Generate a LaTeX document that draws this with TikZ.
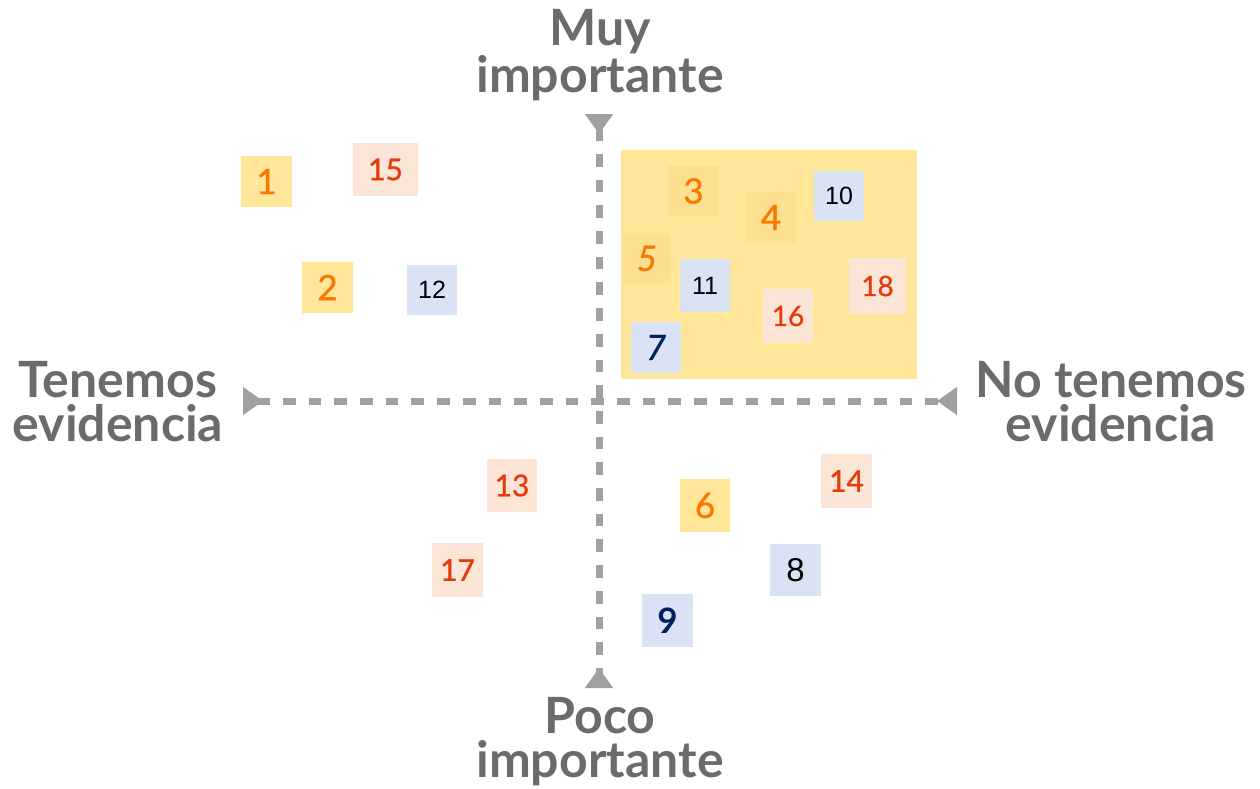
\documentclass[tikz,border=0pt]{standalone}
\usepackage{fontspec}
\setmainfont{Lato}
\newfontfamily\arialf{Liberation Sans}
\newfontfamily\latomed[FakeBold=0.9]{Lato}
\usetikzlibrary{arrows.meta}
\definecolor{lblgray}{HTML}{6B6B6B}
\definecolor{axgray}{HTML}{A0A0A0}
\definecolor{yfill}{HTML}{FFE699}
\definecolor{yfilldk}{HTML}{FDE08F}
\definecolor{pfill}{HTML}{FBE5D6}
\definecolor{bfill}{HTML}{DAE3F3}
\definecolor{orng}{HTML}{F97800}
\definecolor{rred}{HTML}{E63A0C}
\definecolor{dblue}{HTML}{002060}
\tikzset{
  box/.style={inner sep=0pt, anchor=center},
  ybox/.style={box, fill=yfill, text=orng, font=\latomed\fontsize{35}{35}\selectfont},
  ydbox/.style={box, fill=yfilldk, text=orng, font=\latomed\fontsize{35}{35}\selectfont},
  pbox/.style={box, fill=pfill, text=rred, font=\latomed\fontsize{30}{30}\selectfont},
  pboxs/.style={box, fill=pfill, text=rred, font=\latomed\fontsize{28}{28}\selectfont},
  bbox/.style={box, fill=bfill, text=black, font=\arialf\fontsize{25}{25}\selectfont},
  axis/.style={draw=axgray, line width=7pt, dash pattern=on 12.7pt off 13pt,
    {Triangle[reversed,length=20pt,width=27pt]}-{Triangle[reversed,length=20pt,width=27pt]}},
  lbl/.style={text=lblgray, align=center, inner sep=0pt, font=\bfseries\fontsize{50}{44}\selectfont}
}
\begin{document}
\begin{tikzpicture}[x=1pt,y=-1pt]
\useasboundingbox (0,0) rectangle (1260,788);
% highlighted quadrant
\fill[yfill] (621,150) rectangle (917,379);
% axes
\coordinate (L) at (243,401);
\coordinate (R) at (957,401);
\coordinate (T) at (599,114);
\coordinate (B) at (599,688);
\draw[axis] (L) -- (R);
\draw[axis] (T) -- (B);
% labels
\node[lbl] (top) at (600,55) {Muy\\importante};
\node[lbl] (left) at (118,402) {Tenemos\\evidencia};
\node[lbl] (right) at (1111,402) {No tenemos\\evidencia};
\node[lbl] (bottom) at (600,742) {Poco\\importante};
% boxes
\node[ybox, minimum width=51pt, minimum height=51pt] (n1) at (266.5,181.5) {1};
\node[pbox, minimum width=65pt, minimum height=53pt] (n15) at (385.5,169.5) {15};
\node[ybox, minimum width=51pt, minimum height=51pt] (n2) at (327.5,287.5) {2};
\node[bbox, minimum width=50pt, minimum height=50pt] (n12) at (432,290) {12};
\node[ydbox, minimum width=51pt, minimum height=50pt] (n3) at (693.5,191) {3};
\node[ydbox, minimum width=50pt, minimum height=51pt] (n4) at (771,217.5) {4};
\node[bbox, minimum width=50pt, minimum height=50pt] (n10) at (839,196) {10};
\node[ydbox, minimum width=48pt, minimum height=51pt] (n5) at (647,258.5) {\itshape 5};
\node[bbox, minimum width=50pt, minimum height=53pt] (n11) at (705,285.5) {11};
\node[pboxs, minimum width=57pt, minimum height=56pt] (n18) at (877.5,286) {18};
\node[pboxs, minimum width=50pt, minimum height=54pt] (n16) at (788,316) {16};
\node[bbox, text=dblue, font=\latomed\itshape\fontsize{35}{35}\selectfont, minimum width=50pt, minimum height=51pt] (n7) at (656,347.5) {7};
\node[pbox, minimum width=50pt, minimum height=53pt] (n13) at (512,485.5) {13};
\node[pbox, minimum width=51pt, minimum height=54pt] (n17) at (457.5,570) {17};
\node[ybox, minimum width=50pt, minimum height=53pt] (n6) at (705,505.5) {6};
\node[pbox, minimum width=51pt, minimum height=54pt] (n14) at (846.5,481) {14};
\node[bbox, font=\arialf\fontsize{33}{33}\selectfont, minimum width=51pt, minimum height=52pt] (n8) at (795.5,570) {8};
\node[bbox, text=dblue, font=\bfseries\fontsize{35}{35}\selectfont, minimum width=51pt, minimum height=53pt] (n9) at (667.5,620.5) {9};
\end{tikzpicture}
\end{document}
